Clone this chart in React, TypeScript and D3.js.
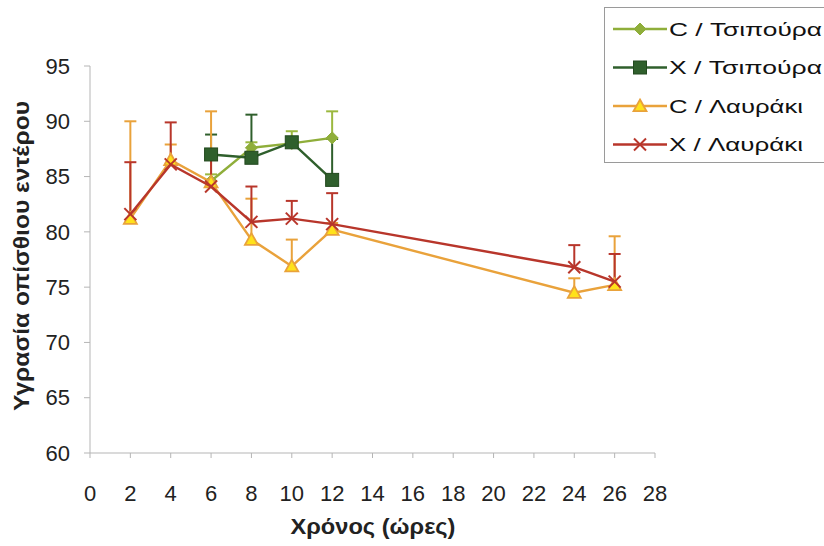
import React from "react";
import * as d3 from "d3";

const W = 824;
const H = 546;

const xTicks = [0, 2, 4, 6, 8, 10, 12, 14, 16, 18, 20, 22, 24, 26, 28];
const yTicks = [60, 65, 70, 75, 80, 85, 90, 95];

const tsipouraHours = [6, 8, 10, 12];
const lavrakiHours = [2, 4, 6, 8, 10, 12, 24, 26];

const cTsipouraValues = [84.6, 87.6, 88.0, 88.5];
const cTsipouraErr = [0.6, 0.5, 1.1, 2.4];

const xTsipouraValues = [87.0, 86.7, 88.1, 84.7];
const xTsipouraErr = [1.8, 3.9, 0.4, 3.7];

const cLavrakiValues = [81.2, 86.5, 84.5, 79.3, 76.9, 80.2, 74.5, 75.2];
const cLavrakiErr = [8.8, 1.4, 6.4, 3.7, 2.4, 0.6, 1.3, 4.4];

const xLavrakiValues = [81.6, 86.1, 84.1, 80.9, 81.2, 80.7, 76.8, 75.5];
const xLavrakiErr = [4.7, 3.8, 2.7, 3.2, 1.6, 2.8, 2.0, 2.5];

const seriesNames = ["C / Τσιπούρα", "X / Τσιπούρα", "C / Λαυράκι", "X / Λαυράκι"];
const legendWidths = [153, 153, 134, 134];

type Series = {
  name: string;
  xs: number[];
  ys: number[];
  err: number[];
  color: string;
  errColor: string;
  marker: "diamond" | "square" | "triangle" | "cross";
};

const series: Series[] = [
  { name: seriesNames[0], xs: tsipouraHours, ys: cTsipouraValues, err: cTsipouraErr, color: "#8fae3a", errColor: "#9bb83f", marker: "diamond" },
  { name: seriesNames[1], xs: tsipouraHours, ys: xTsipouraValues, err: xTsipouraErr, color: "#2f5f2c", errColor: "#2f5f2c", marker: "square" },
  { name: seriesNames[2], xs: lavrakiHours, ys: cLavrakiValues, err: cLavrakiErr, color: "#e9a23b", errColor: "#e9a23b", marker: "triangle" },
  { name: seriesNames[3], xs: lavrakiHours, ys: xLavrakiValues, err: xLavrakiErr, color: "#b8362b", errColor: "#b8362b", marker: "cross" },
];

const FONT = "'Liberation Sans', Arial, sans-serif";

function Marker({ kind, x, y, color }: { kind: Series["marker"]; x: number; y: number; color: string }) {
  if (kind === "diamond") {
    const s = 6;
    return <path d={`M${x},${y - s}L${x + s},${y}L${x},${y + s}L${x - s},${y}Z`} fill={color} stroke={color} strokeWidth={1} />;
  }
  if (kind === "square") {
    const s = 6.5;
    return <rect x={x - s} y={y - s} width={2 * s} height={2 * s} fill={color} stroke="#23491f" strokeWidth={1} />;
  }
  if (kind === "triangle") {
    const s = 6.5;
    return <path d={`M${x},${y - s}L${x + s},${y + s * 0.8}L${x - s},${y + s * 0.8}Z`} fill="#ffe21a" stroke={color} strokeWidth={1.8} />;
  }
  const s = 6;
  return (
    <g stroke={color} strokeWidth={2}>
      <line x1={x - s} y1={y - s} x2={x + s} y2={y + s} />
      <line x1={x - s} y1={y + s} x2={x + s} y2={y - s} />
    </g>
  );
}

export default function App() {
  const left = 90;
  const right = 655;
  const top = 66;
  const bottom = 453;

  const x = d3.scaleLinear().domain([0, 28]).range([left, right]);
  const y = d3.scaleLinear().domain([60, 95]).range([bottom, top]);
  const line = d3.line<[number, number]>().x((d) => x(d[0])).y((d) => y(d[1]));

  const cap = 6;

  return (
    <svg width={W} height={H} style={{ position: "absolute", left: 0, top: 0, background: "#fff" }} fontFamily={FONT}>
      <rect x={0} y={0} width={W} height={H} fill="#fff" />
      {/* axes */}
      <line x1={left} y1={top} x2={left} y2={bottom} stroke="#b5b5b5" strokeWidth={1} />
      <line x1={left} y1={bottom} x2={right} y2={bottom} stroke="#b5b5b5" strokeWidth={1} />
      {yTicks.map((t) => (
        <g key={"y" + t}>
          <line x1={left - 6} x2={left} y1={y(t)} y2={y(t)} stroke="#b5b5b5" />
          <text x={70} y={y(t)} dy="0.35em" textAnchor="end" fontSize={22} fill="#222">{t}</text>
        </g>
      ))}
      {xTicks.map((t) => (
        <g key={"x" + t}>
          <line x1={x(t)} x2={x(t)} y1={bottom} y2={bottom + 5} stroke="#b5b5b5" />
          <text x={x(t)} y={493} dy="0.35em" textAnchor="middle" fontSize={22} fill="#222">{t}</text>
        </g>
      ))}
      <text x={373} y={526} dy="0.35em" textAnchor="middle" fontSize={22} fontWeight="bold" fill="#222" textLength={165} lengthAdjust="spacingAndGlyphs">Χρόνος (ώρες)</text>
      <text transform={`translate(21,${256}) rotate(-90)`} textAnchor="middle" dy="0.35em" fontSize={22} fontWeight="bold" fill="#222" textLength={310} lengthAdjust="spacingAndGlyphs">Υγρασία οπίσθιου εντέρου</text>

      {/* error bars */}
      {series.map((s) => (
        <g key={"e" + s.name} stroke={s.errColor} strokeWidth={2}>
          {s.xs.map((xv, i) => (
            <g key={i}>
              <line x1={x(xv)} x2={x(xv)} y1={y(s.ys[i])} y2={y(s.ys[i] + s.err[i])} />
              <line x1={x(xv) - cap} x2={x(xv) + cap} y1={y(s.ys[i] + s.err[i])} y2={y(s.ys[i] + s.err[i])} />
            </g>
          ))}
        </g>
      ))}
      {/* lines and markers */}
      {series.map((s) => (
        <g key={"l" + s.name}>
          <path d={line(s.xs.map((xv, i) => [xv, s.ys[i]] as [number, number])) || ""} fill="none" stroke={s.color} strokeWidth={2.4} />
          {s.xs.map((xv, i) => (
            <Marker key={i} kind={s.marker} x={x(xv)} y={y(s.ys[i])} color={s.color} />
          ))}
        </g>
      ))}

      {/* legend */}
      <rect x={604.5} y={7.5} width={230} height={155} fill="#fff" stroke="#9a9a9a" strokeWidth={1} />
      {series.map((s, i) => {
        const ly = 29 + i * 38.5;
        return (
          <g key={"lg" + s.name}>
            <line x1={613} x2={667} y1={ly} y2={ly} stroke={s.color} strokeWidth={2.4} />
            <Marker kind={s.marker} x={640} y={ly} color={s.color} />
            <text x={669} y={ly} dy="0.36em" fontSize={19} fill="#111" textLength={legendWidths[i]} lengthAdjust="spacingAndGlyphs">{s.name}</text>
          </g>
        );
      })}
    </svg>
  );
}
